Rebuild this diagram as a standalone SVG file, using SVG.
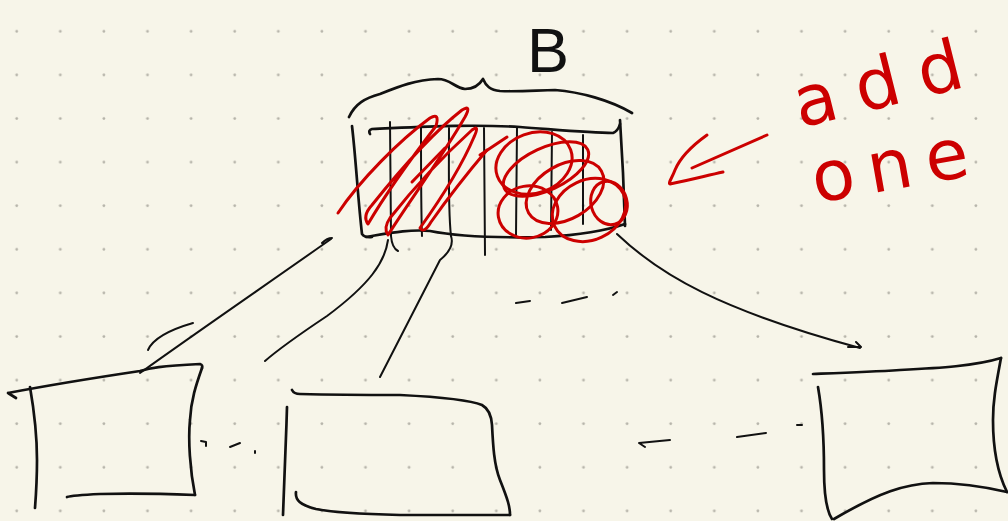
<svg xmlns="http://www.w3.org/2000/svg" width="1008" height="521" viewBox="0 0 1008 521">
<defs>
<pattern id="dots" x="0" y="0" width="43.6" height="43.6" patternUnits="userSpaceOnUse">
<circle cx="16.7" cy="31.3" r="1.4" fill="#b4b2a8"/>
</pattern>
<style>
.ink{fill:none;stroke:#111;stroke-width:2.7;stroke-linecap:round;stroke-linejoin:round}
.thin{fill:none;stroke:#111;stroke-width:2;stroke-linecap:round;stroke-linejoin:round}
.red{fill:none;stroke:#cc0000;stroke-width:3;stroke-linecap:round;stroke-linejoin:round}
.redtxt{fill:#cc0000;font-family:"DejaVu Sans","Liberation Sans",sans-serif;font-size:70px}
</style>
</defs>
<rect width="1008" height="521" fill="#f7f5e9"/>
<rect width="1008" height="521" fill="url(#dots)"/>

<g id="node-B">
<text x="527" y="72" font-family="Liberation Sans, Arial, sans-serif" font-size="63" fill="#111">B</text>
<path class="ink" d="M349,117 C355,104 365,98 380,94 C400,86 415,80 438,79 C450,79 455,88 465,89 C474,89 480,84 483,79 C486,86 490,90 500,91 C520,92 540,90 555,90 C580,92 610,100 632,113"/>
<path class="ink" d="M352,126 C356,160 358,200 362,234 Q365,238 372,237"/>
<path class="ink" d="M366,237 C390,233 410,229 430,231 C460,237 500,238 545,237 C580,235 605,231 625,224"/>
<path class="ink" d="M370,134 Q368,130 372,129 C420,127 470,124 520,127 C560,130 590,133 613,133 Q618,131 620,124"/>
<path class="ink" d="M620,120 C622,150 624,190 625,226"/>
<path class="thin" d="M390,122 L391,236 Q392,248 398,251"/>
<path class="thin" d="M421,126 C421,170 421,210 422,236"/>
<path class="thin" d="M449,128 C449,170 448,210 451,236"/>
<path class="thin" d="M484,128 L485,255"/>
<path class="thin" d="M517,128 L516,235"/>
<path class="thin" d="M552,132 L551,230"/>
<path class="thin" d="M583,135 L583,224"/>
</g>

<g id="scribbles">
<path class="red" d="M338,213 C360,180 400,140 430,118 Q440,112 436,126 C410,160 385,195 368,224 Q362,216 372,205 C400,170 430,135 462,110 Q472,104 465,117 C440,160 410,200 388,235 Q383,228 390,218 C420,180 450,150 472,130 Q480,124 474,137 C460,170 440,200 420,228 Q424,234 431,222 C450,195 470,170 487,150"/>
<path class="red" d="M480,155 L507,137"/>
<path class="red" d="M412,182 L445,148"/>
<ellipse class="red" cx="534" cy="163" rx="39" ry="30" transform="rotate(-20 534 163)"/>
<ellipse class="red" cx="546" cy="169" rx="46" ry="21" transform="rotate(-25 546 169)"/>
<ellipse class="red" cx="528" cy="212" rx="30" ry="26" transform="rotate(-10 528 212)"/>
<ellipse class="red" cx="565" cy="192" rx="42" ry="27" transform="rotate(-30 565 192)"/>
<ellipse class="red" cx="589" cy="210" rx="38" ry="30" transform="rotate(-25 589 210)"/>
<ellipse class="red" cx="609" cy="203" rx="18" ry="22" transform="rotate(-15 609 203)"/>
</g>

<g id="node-left">
<path class="ink" d="M8,393 L16,398 M8,393 C50,385 100,377 140,371 C150,368 160,366 200,364 Q203,365 202,368"/>
<path class="ink" d="M202,368 C196,385 191,400 190,420 C188,440 190,470 195,495"/>
<path class="ink" d="M195,495 C170,494 130,493 100,494 C80,495 70,496 67,497"/>
<path class="ink" d="M30,387 C34,410 37,430 37,460 C37,480 36,495 35,508"/>
</g>

<g id="node-mid">
<path class="ink" d="M292,390 Q294,394 300,394 C340,395 380,395 400,395 C440,397 470,400 482,405 Q491,410 492,425 C493,445 494,465 500,480 C508,500 510,507 510,515"/>
<path class="ink" d="M510,515 C480,515 430,515 400,515 C360,514 330,512 316,509 C300,505 295,500 296,492"/>
<path class="ink" d="M287,407 C286,440 285,470 283,515"/>
</g>

<g id="node-right">
<path class="ink" d="M813,374 C840,373 870,372 900,370 C940,368 975,366 1001,358"/>
<path class="ink" d="M1001,358 C996,385 993,400 993,420 C993,445 996,470 1007,492"/>
<path class="ink" d="M1007,492 C990,488 960,483 933,483 C905,484 880,492 834,519"/>
<path class="ink" d="M818,387 C822,410 824,440 824,470 C824,495 826,510 832,519"/>
</g>

<g id="connectors">
<path class="thin" d="M140,373 C200,330 270,282 331,239 M322,243 Q327,238 332,238"/>
<path class="thin" d="M148,350 Q155,334 193,323"/>
<path class="thin" d="M388,240 C385,262 370,284 327,316 C300,334 280,348 265,361"/>
<path class="thin" d="M451,236 Q455,248 440,260 L380,377"/>
<path class="thin" d="M617,234 C660,275 720,310 860,348 M856,342 L861,347 L848,347"/>
<path class="thin" d="M516,303 L530,301 M562,303 L587,297 M613,295 L617,292"/>
<path class="thin" d="M201,441 L206,442 L206,446 M230,447 L240,443 M255,451 L255,453"/>
<path class="thin" d="M645,447 L639,443 L670,440 M737,437 L766,433 M797,425 L802,425"/>
</g>

<g id="note">
<path class="red" d="M767,135 L692,168"/>
<path class="red" d="M707,135 C693,145 680,158 675,170 C672,178 668,183 670,184 C690,180 705,176 723,172"/>
<text class="redtxt" x="800" y="128" textLength="172" lengthAdjust="spacing" transform="rotate(-14 800 128)">add</text>
<text class="redtxt" x="816" y="203" textLength="158" lengthAdjust="spacing" transform="rotate(-10 816 203)">one</text>
</g>
</svg>
